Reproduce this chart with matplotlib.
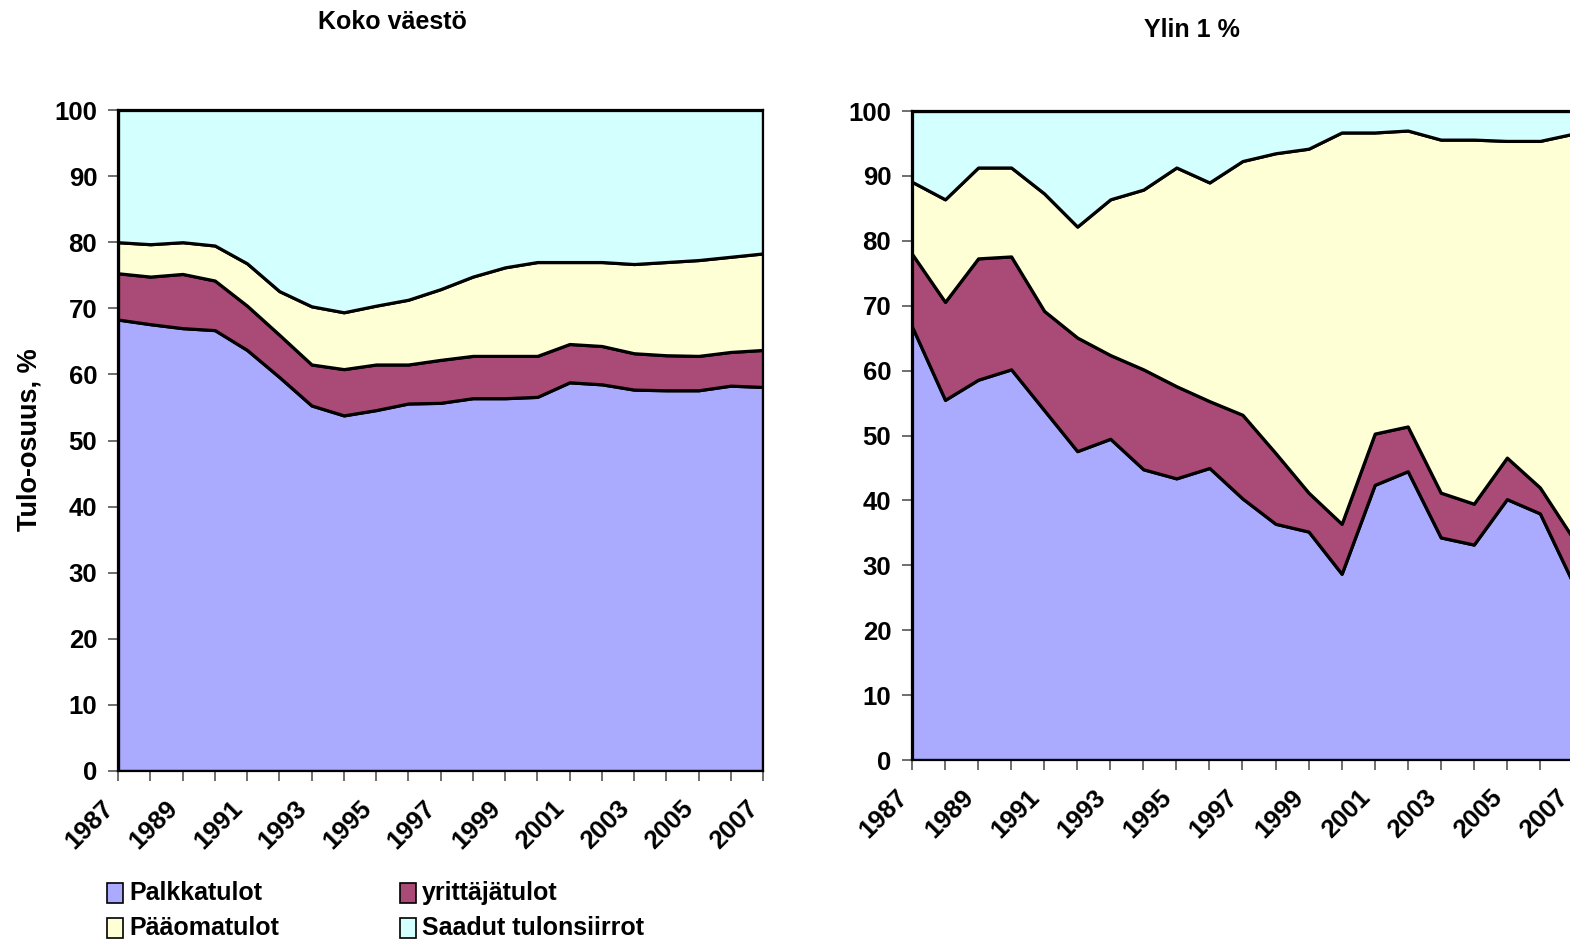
import matplotlib.pyplot as plt
from matplotlib.patches import Rectangle

plt.rcParams['font.family'] = ['Liberation Sans', 'DejaVu Sans']
plt.rcParams['font.weight'] = 'bold'

years = list(range(1987, 2008))
series_names = ['Palkkatulot', 'yrittäjätulot', 'Pääomatulot', 'Saadut tulonsiirrot']
colors = ['#aaaaff', '#aa4a76', '#ffffd6', '#d4ffff']

# Koko väestö, shares in %
koko_palkka = [68.3, 67.6, 67.0, 66.7, 63.7, 59.6, 55.3, 53.8, 54.6, 55.6, 55.7,
               56.4, 56.4, 56.6, 58.8, 58.5, 57.7, 57.6, 57.6, 58.3, 58.1]
koko_yrittaja = [7.0, 7.2, 8.2, 7.5, 6.7, 6.4, 6.2, 7.0, 6.9, 5.9, 6.5,
                 6.4, 6.4, 6.2, 5.8, 5.8, 5.5, 5.3, 5.2, 5.1, 5.6]
koko_paaoma = [4.7, 4.9, 4.8, 5.3, 6.4, 6.6, 8.8, 8.6, 8.9, 9.8, 10.7,
               12.0, 13.4, 14.2, 12.4, 12.7, 13.5, 14.1, 14.5, 14.4, 14.6]
koko_siirrot = [20.0, 20.3, 20.0, 20.5, 23.2, 27.4, 29.7, 30.6, 29.6, 28.7, 27.1,
                25.2, 23.8, 23.0, 23.0, 23.0, 23.3, 23.0, 22.7, 22.2, 21.7]

# Ylin 1 %, shares in %
ylin_palkka = [66.8, 55.5, 58.6, 60.2, 53.9, 47.6, 49.5, 44.8, 43.4, 45.0, 40.3,
               36.4, 35.2, 28.7, 42.4, 44.5, 34.3, 33.2, 40.2, 38.0, 27.3]
ylin_yrittaja = [11.2, 15.1, 18.7, 17.4, 15.3, 17.5, 12.9, 15.4, 14.2, 10.3, 12.9,
                 10.9, 6.0, 7.7, 7.9, 6.9, 6.9, 6.3, 6.4, 4.0, 6.9]
ylin_paaoma = [11.1, 15.8, 14.0, 13.7, 18.1, 17.1, 24.0, 27.7, 33.7, 33.7, 39.1,
               46.2, 53.0, 60.3, 46.4, 45.6, 54.4, 56.1, 48.8, 53.4, 62.3]
ylin_siirrot = [10.9, 13.6, 8.7, 8.7, 12.7, 17.8, 13.6, 12.1, 8.7, 11.0, 7.7,
                6.5, 5.8, 3.3, 3.3, 3.0, 4.4, 4.4, 4.6, 4.6, 3.5]

fig = plt.figure(figsize=(15.7, 9.46), dpi=100)
ax1 = fig.add_axes([0.0752, 0.185, 0.4108, 0.6987])
ax2 = fig.add_axes([0.5809, 0.1966, 0.421, 0.686])


def draw_panel(ax, data):
    ax.stackplot(years, *data, colors=colors, edgecolor='black', linewidth=2.3)
    ax.set_xlim(years[0], years[-1])
    ax.set_ylim(0, 100)
    ax.set_yticks(range(0, 101, 10))
    ax.set_xticks(years)
    ax.set_xticklabels([str(y) if (y - years[0]) % 2 == 0 else '' for y in years],
                       rotation=45, ha='right', va='top')
    ax.tick_params(axis='both', labelsize=18.5, length=7, width=1.2, color='#555555',
                   direction='out', pad=11)
    ax.tick_params(axis='y', pad=8)
    for s in ax.spines.values():
        s.set_linewidth(1.6)
        s.set_color('black')
    for lab in ax.get_xticklabels() + ax.get_yticklabels():
        lab.set_fontweight('bold')


draw_panel(ax1, [koko_palkka, koko_yrittaja, koko_paaoma, koko_siirrot])
draw_panel(ax2, [ylin_palkka, ylin_yrittaja, ylin_paaoma, ylin_siirrot])

fig.text(0.2497, 0.9767, 'Koko väestö', ha='center', va='center', fontsize=18, fontweight='bold')
fig.text(0.759, 0.968, 'Ylin 1 %', ha='center', va='center', fontsize=18, fontweight='bold')
fig.text(0.019, 0.535, 'Tulo-osuus, %', rotation=90, ha='center', va='center',
         fontsize=19.5, fontweight='bold')

# legend below the left panel, 2 x 2
leg_x = [107, 400]
leg_y = [893, 928]
for i, (name, col) in enumerate(zip(series_names, colors)):
    cx = leg_x[i % 2]
    cy = leg_y[i // 2]
    fig.patches.append(Rectangle((cx / 1570, 1 - (cy + 10) / 946), 16 / 1570, 20 / 946,
                                 transform=fig.transFigure, facecolor=col,
                                 edgecolor='black', linewidth=1.2))
    fig.text((cx + 22) / 1570, 1 - cy / 946, name, ha='left', va='center',
             fontsize=18, fontweight='bold')

fig.savefig('out.png', dpi=100)
